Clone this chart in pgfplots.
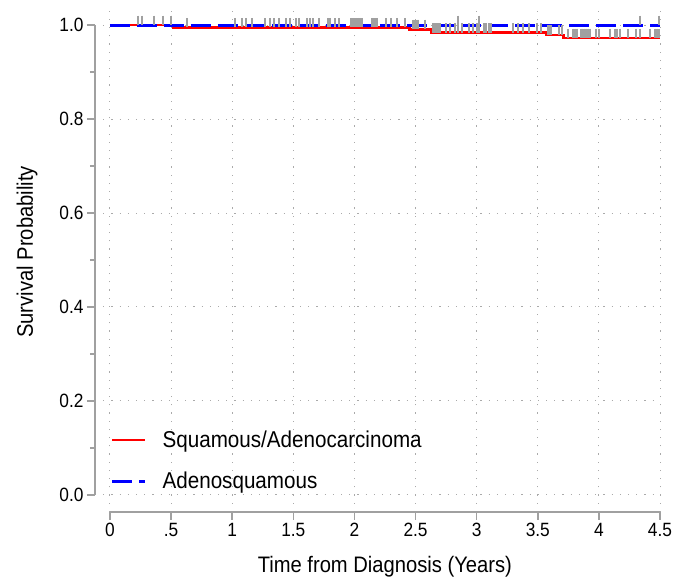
\documentclass[border=0pt]{standalone}
\usepackage{pgfplots}
\pgfplotsset{compat=1.18}
\usepackage{fontspec}
\setmainfont{Liberation Sans}[FakeStretch=0.9]
\definecolor{axgray}{RGB}{160,160,160}
\definecolor{gridgray}{RGB}{170,170,170}
\definecolor{censgray}{RGB}{160,160,160}

\begin{document}
\begin{tikzpicture}
\begin{axis}[
    scale only axis, width=565bp, height=507bp,
    xmin=-0.1227, xmax=4.5, ymin=-0.0362, ymax=1.0426,
    clip=false,
    axis lines*=left, axis line style={draw=none},
    xtick={0,0.5,1,1.5,2,2.5,3,3.5,4,4.5},
    xticklabels={0,.5,1,1.5,2,2.5,3,3.5,4,4.5},
    ytick={0,0.2,0.4,0.6,0.8,1},
    yticklabels={0.0,0.2,0.4,0.6,0.8,1.0},
    minor ytick={0.1,0.3,0.5,0.7,0.9},
    tick align=outside,
    major tick length=8bp, minor tick length=5bp,
    tick style={axgray, line width=1.5bp},
    minor tick style={axgray, line width=1.5bp},
    ticklabel style={font=\fontsize{19.3}{21}\selectfont, black},
    xmajorgrids, ymajorgrids,
    major grid style={gridgray, line width=1bp, dash pattern=on 1.2bp off 7bp},
    xlabel={Time from Diagnosis (Years)},
    ylabel={Survival Probability},
    every axis x label/.style={at={(axis description cs:0.513,-0.120)}, anchor=base,
        font=\fontsize{22.5}{24}\selectfont},
    every axis y label/.style={at={(axis description cs:-0.120,0.513)}, anchor=center, rotate=90,
        font=\fontsize{22.5}{24}\selectfont},
    legend style={draw=none, fill=none, at={(axis description cs:0.022,0.168)}, anchor=north west,
        font=\fontsize{23}{25}\selectfont, row sep=19bp,
        /tikz/every odd column/.append style={column sep=14bp}},
    legend cell align=left,
    legend image code/.code={\draw[#1] (0bp,0bp) -- (33bp,0bp);},
]
\addplot[red, line width=2.6bp, const plot] coordinates {
    (0,1) (0.52,0.995) (2.45,0.991) (2.63,0.984) (3.57,0.979) (3.71,0.972) (4.5,0.972)
};
\addlegendentry{Squamous/Adenocarcinoma}
\addplot[blue, line width=3bp, dash pattern=on 20bp off 7bp] coordinates {
    (0,1) (4.5,1)
};
\addlegendentry{Adenosquamous}

% censoring ticks, squamous/adenocarcinoma
\addplot[only marks, mark=|, censgray, mark size=4.75bp, line width=2bp,
    mark options={yshift=4.75bp}, forget plot] coordinates {
    (0.23,1) (0.26,1) (0.36,1) (0.43,1) (0.50,1)
    (0.63,0.995) (1.02,0.995) (1.08,0.995) (1.11,0.995) (1.16,0.995) (1.27,0.995)
    (1.31,0.995) (1.34,0.995) (1.38,0.995) (1.44,0.995) (1.47,0.995) (1.52,0.995)
    (1.55,0.995) (1.61,0.995) (1.64,0.995) (1.66,0.995) (1.71,0.995) (1.78,0.995)
    (1.80,0.995) (1.84,0.995) (1.87,0.995)
    (1.97,0.995) (1.985,0.995) (2.00,0.995) (2.015,0.995) (2.03,0.995) (2.045,0.995) (2.06,0.995)
    (2.14,0.995) (2.155,0.995) (2.17,0.995) (2.185,0.995)
    (2.26,0.995) (2.30,0.995) (2.35,0.995) (2.41,0.995)
    (2.48,0.991) (2.495,0.991) (2.51,0.991) (2.52,0.991) (2.58,0.991)
    (2.64,0.984) (2.655,0.984) (2.67,0.984) (2.685,0.984) (2.70,0.984)
    (2.75,0.984) (2.78,0.984) (2.82,0.984) (2.85,0.984) (2.88,0.984) (2.94,0.984)
    (2.97,0.984) (3.00,0.984) (3.02,0.984) (3.06,0.984) (3.08,0.984) (3.10,0.984)
    (3.12,0.984) (3.30,0.984) (3.34,0.984) (3.38,0.984) (3.43,0.984) (3.49,0.984) (3.53,0.984)
    (3.58,0.979) (3.595,0.979) (3.61,0.979) (3.67,0.979) (3.70,0.979)
    (3.75,0.972) (3.79,0.972) (3.805,0.972) (3.82,0.972) (3.85,0.972) (3.865,0.972)
    (3.88,0.972) (3.895,0.972) (3.91,0.972) (3.93,0.972) (3.98,0.972) (4.00,0.972)
    (4.09,0.972) (4.13,0.972) (4.15,0.972) (4.17,0.972) (4.24,0.972) (4.30,0.972)
    (4.34,0.972) (4.42,0.972) (4.46,0.972) (4.475,0.972) (4.49,0.972)
};
% censoring ticks, adenosquamous
\addplot[only marks, mark=|, censgray, mark size=4.75bp, line width=2bp,
    mark options={yshift=4.75bp}, forget plot] coordinates {
    (0.50,1) (2.85,1) (3.02,1) (4.34,1) (4.49,1)
};

\draw[axgray, line width=1.5bp] (axis cs:-0.1227,0) -- (axis cs:-0.1227,1);
\draw[axgray, line width=1.5bp] (axis cs:0,-0.0362) -- (axis cs:4.5,-0.0362);
\coordinate (SW) at (rel axis cs:0,0);
\end{axis}
\path (SW) ++(-95bp,-67bp) rectangle ++(683bp,579bp);
\end{tikzpicture}
\end{document}
